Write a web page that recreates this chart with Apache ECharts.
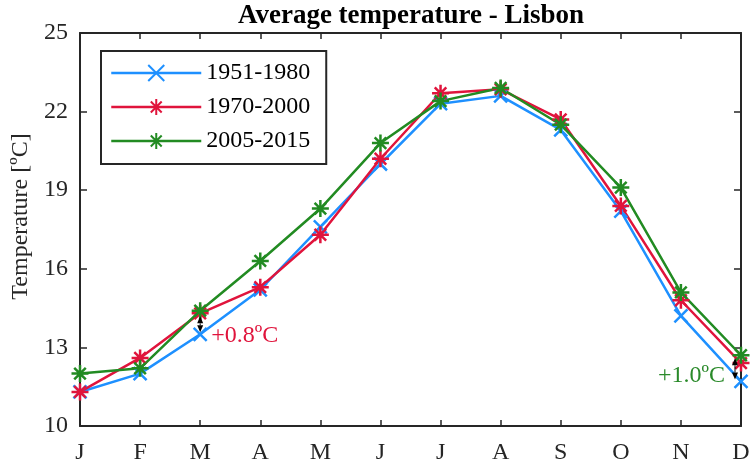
<!DOCTYPE html>
<html>
<head>
<meta charset="utf-8">
<script src="https://cdn.jsdelivr.net/npm/echarts@6/dist/echarts.min.js"></script>
<style>
  html, body { margin: 0; padding: 0; background: #fff; }
  #chart { width: 756px; height: 466px; }
</style>
</head>
<body>
<div id="chart"></div>
<script>
// Monthly mean temperature in Lisbon for three reference periods
const months = ['J', 'F', 'M', 'A', 'M', 'J', 'J', 'A', 'S', 'O', 'N', 'D'];
const period1951 = [11.3, 12.0, 13.5, 15.2, 17.6, 20.0, 22.3, 22.6, 21.3, 18.2, 14.2, 11.7];
const period1970 = [11.3, 12.6, 14.3, 15.3, 17.3, 20.2, 22.7, 22.85, 21.7, 18.4, 14.8, 12.4];
const period2005 = [12.0, 12.2, 14.4, 16.3, 18.3, 20.8, 22.4, 22.9, 21.5, 19.1, 15.1, 12.7];
const yTicks = [10, 13, 16, 19, 22, 25];

// Difference callouts: month index, upper value, lower value, label
const notes = [
  { idx: 2, top: period1970[2], bottom: period1951[2], text: '+0.8ºC', color: '#e0143c', side: 'right' },
  { idx: 11, top: period2005[11], bottom: period1951[11], text: '+1.0ºC', color: '#2a8a2a', side: 'left' }
];

const FONT = 'Liberation Serif';
const AXIS = '#262626';
const BLUE = '#1e90ff';
const RED = '#e0143c';
const GREEN = '#228b22';

const crossPath = 'path://M0,0L10,10M10,0L0,10';
const starPath = 'path://M0,5L10,5M5,0L5,10M1.6,1.6L8.4,8.4M8.4,1.6L1.6,8.4';

function lineSeries(name, data, color, symbol, size) {
  return {
    name: name,
    type: 'line',
    data: data,
    symbol: symbol,
    symbolSize: size,
    showAllSymbol: true,
    lineStyle: { color: color, width: 2.5 },
    itemStyle: { color: 'rgba(0,0,0,0)', borderColor: color, borderWidth: 2.5 },
    emphasis: { disabled: true },
    z: 3
  };
}

const chart = echarts.init(document.getElementById('chart'), null, { renderer: 'canvas' });

const option = {
  animation: false,
  backgroundColor: '#fff',
  title: {
    text: 'Average temperature - Lisbon',
    left: 411,
    textAlign: 'center',
    top: 3,
    padding: 0,
    textStyle: { fontFamily: FONT, fontWeight: 'bold', fontSize: 27, color: '#000' }
  },
  grid: { left: 80, right: 15, top: 33, bottom: 40, containLabel: false },
  legend: {
    orient: 'vertical',
    left: 101,
    top: 51,
    padding: [10, 16, 11, 9],
    itemWidth: 90,
    itemHeight: 20,
    itemGap: 10,
    borderColor: AXIS,
    borderWidth: 2,
    backgroundColor: '#fff',
    lineStyle: { width: 2.5 },
    textStyle: { fontFamily: FONT, fontSize: 24, color: '#000' },
    data: ['1951-1980', '1970-2000', '2005-2015']
  },
  xAxis: [
    {
      type: 'category',
      data: months,
      boundaryGap: false,
      axisLine: { lineStyle: { color: AXIS, width: 2 } },
      axisTick: { inside: true, length: 6, alignWithLabel: true, lineStyle: { color: AXIS, width: 1.5 } },
      axisLabel: { fontFamily: FONT, fontSize: 24, color: '#262626', margin: 15 },
      splitLine: { show: false }
    },
    {
      type: 'category',
      position: 'top',
      data: months,
      boundaryGap: false,
      axisLine: { lineStyle: { color: AXIS, width: 2 } },
      axisTick: { inside: true, length: 6, lineStyle: { color: AXIS, width: 1.5 } },
      axisLabel: { show: false },
      splitLine: { show: false }
    }
  ],
  yAxis: [
    {
      type: 'value',
      min: 10,
      max: 25,
      interval: 3,
      name: 'Temperature [ºC]',
      nameLocation: 'middle',
      nameGap: 46,
      nameTextStyle: { fontFamily: FONT, fontSize: 24, color: '#262626', padding: [0, 0, 0, 26] },
      axisLine: { show: true, lineStyle: { color: AXIS, width: 2 } },
      axisTick: { show: true, inside: true, length: 7, lineStyle: { color: AXIS, width: 1.5 } },
      axisLabel: { fontFamily: FONT, fontSize: 24, color: '#262626', margin: 12,
        formatter: v => (yTicks.indexOf(v) >= 0 ? String(v) : '') },
      splitLine: { show: false }
    },
    {
      type: 'value',
      position: 'right',
      min: 10,
      max: 25,
      interval: 3,
      axisLine: { show: true, lineStyle: { color: AXIS, width: 2 } },
      axisTick: { show: true, inside: true, length: 7, lineStyle: { color: AXIS, width: 1.5 } },
      axisLabel: { show: false },
      splitLine: { show: false }
    }
  ],
  series: [
    lineSeries('1951-1980', period1951, BLUE, crossPath, 13),
    lineSeries('1970-2000', period1970, RED, starPath, 17),
    lineSeries('2005-2015', period2005, GREEN, starPath, 17),
    {
      // double-headed arrows with the difference labels
      type: 'custom',
      data: notes.map(n => [n.idx, n.top, n.bottom]),
      silent: true,
      z: 5,
      renderItem: function (params, api) {
        const n = notes[params.dataIndex];
        const pTop = api.coord([api.value(0), api.value(1)]);
        const pBot = api.coord([api.value(0), api.value(2)]);
        const x = n.side === 'left' ? pTop[0] - 6 : pTop[0];
        const y1 = pTop[1] + 3, y2 = pBot[1] - 2;
        const h = 7, w = 3;
        const label = n.side === 'left'
          ? { x: x - 10, y: pBot[1] - 6, align: 'right' }
          : { x: x + 11, y: pBot[1] + 1, align: 'left' };
        return {
          type: 'group',
          children: [
            { type: 'line', shape: { x1: x, y1: y1 + h, x2: x, y2: y2 - h }, style: { stroke: '#000', lineWidth: 1 } },
            { type: 'polygon', shape: { points: [[x, y1], [x - w, y1 + h], [x + w, y1 + h]] }, style: { fill: '#000' } },
            { type: 'polygon', shape: { points: [[x, y2], [x - w, y2 - h], [x + w, y2 - h]] }, style: { fill: '#000' } },
            { type: 'text', x: label.x, y: label.y,
              style: { text: n.text, fill: n.color, font: '24px "Liberation Serif"', align: label.align, verticalAlign: 'middle' } }
          ]
        };
      }
    }
  ]
};

chart.setOption(option);
</script>
</body>
</html>
